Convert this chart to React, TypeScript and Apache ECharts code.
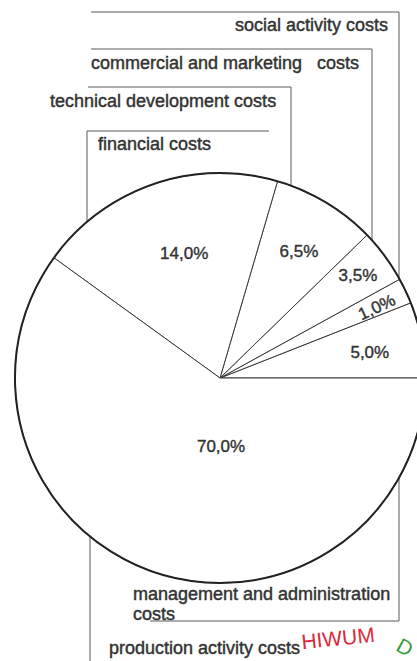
import { useEffect, useRef } from 'react';
import * as echarts from 'echarts';

// ---- data (order: counter-clockwise from 3 o'clock, as in the picture) ----
const categories = [
  'management and administration costs',
  'social activity costs',
  'commercial and marketing costs',
  'technical development costs',
  'financial costs',
  'production activity costs',
];
// shares printed inside the slices (%)
const printedShare = [5.0, 1.0, 3.5, 6.5, 14.0, 70.0];
// angular size of each slice as it is drawn in the picture (degrees; the original is not to scale)
const drawnAngle = [21.5, 7.3, 15.4, 29.5, 70.4, 215.9];

// ---- layout ----
const FONT = '"Liberation Sans", Arial, Helvetica, sans-serif';
const CX = 220;
const CY = 378;
const R = 205;
const labelRadius = [152, 172, 172, 149, 130, 69];
const labelAngleShift = [-1, -0.9, 0.2, -0.95, -2.9, 18.8];
const labelRotate = [0, 25, 0, 0, 0, 0];

const callouts = [
  { cat: 1, text: 'social activity costs', x: 388, y: 25, align: 'right', pts: [[91, 12], [399, 12], [399, 297]] },
  { cat: 2, text: 'commercial and marketing   costs', x: 91, y: 63, align: 'left', pts: [[91, 49], [372, 49], [372, 263]] },
  { cat: 3, text: 'technical development costs', x: 50, y: 101, align: 'left', pts: [[88, 87], [291, 87], [291, 217]] },
  { cat: 4, text: 'financial costs', x: 98, y: 144, align: 'left', pts: [[269, 131], [87, 131], [87, 255]] },
  { cat: 0, text: 'management and administration\ncosts', x: 133, y: 604, align: 'left', pts: [[399, 347], [399, 621], [150, 621]] },
  { cat: 5, text: 'production activity costs', x: 109, y: 648, align: 'left', pts: [[90, 407], [90, 661]] },
];

const fmt = (v: number) => v.toFixed(1).replace('.', ',') + '%';

export default function App() {
  const ref = useRef<HTMLDivElement>(null);

  useEffect(() => {
    if (!ref.current) return;
    const chart = echarts.init(ref.current, undefined, { renderer: 'svg' });

    const total = drawnAngle.reduce((a, b) => a + b, 0);
    const mids: number[] = [];
    let acc = 0;
    drawnAngle.forEach((d) => {
      const deg = (d / total) * 360;
      mids.push(acc + deg / 2);
      acc += deg;
    });

    const graphicEls: any[] = [];
    callouts.forEach((c) => {
      graphicEls.push({
        type: 'polyline',
        silent: true,
        shape: { points: c.pts },
        style: { stroke: '#5a5a5a', lineWidth: 1, fill: 'none' },
      });
      graphicEls.push({
        type: 'text',
        silent: true,
        x: c.x,
        y: c.y,
        style: {
          text: c.text,
          fill: '#333',
          stroke: '#333',
          lineWidth: 0.45,
          fontSize: 18,
          fontFamily: FONT,
          lineHeight: 20,
          align: c.align,
          verticalAlign: 'middle',
        },
      });
    });
    // library stamp visible at the bottom of the scan
    graphicEls.push({
      type: 'text',
      silent: true,
      x: 338,
      y: 638,
      rotation: 0.1,
      style: {
        text: 'HIWUM',
        fill: '#e0283a',
        fontSize: 21,
        fontFamily: FONT,
        align: 'center',
        verticalAlign: 'middle',
      },
    });
    graphicEls.push({
      type: 'text',
      silent: true,
      x: 405,
      y: 647,
      rotation: -0.5,
      style: {
        text: 'D',
        fill: '#3c9a40',
        fontSize: 21,
        fontFamily: FONT,
        align: 'center',
        verticalAlign: 'middle',
      },
    });

    chart.setOption({
      animation: false,
      backgroundColor: '#ffffff',
      tooltip: { show: false },
      series: [
        {
          type: 'pie',
          silent: true,
          center: [CX, CY],
          radius: R,
          startAngle: 0,
          clockwise: false,
          avoidLabelOverlap: false,
          minAngle: 0,
          emphasis: { disabled: true },
          data: categories.map((name, i) => ({ name, value: drawnAngle[i] })),
          itemStyle: { color: '#ffffff', borderColor: '#3a3a3a', borderWidth: 1 },
          label: {
            show: true,
            position: 'inside',
            formatter: (p: any) => fmt(printedShare[p.dataIndex]),
            color: '#333',
            fontSize: 17,
            fontFamily: FONT,
            textBorderColor: '#333',
            textBorderWidth: 0.4,
          },
          labelLine: { show: false },
          labelLayout: (params: any) => {
            const i = params.dataIndex;
            const a = ((mids[i] + labelAngleShift[i]) * Math.PI) / 180;
            return {
              x: CX + labelRadius[i] * Math.cos(a),
              y: CY - labelRadius[i] * Math.sin(a),
              align: 'center',
              verticalAlign: 'middle',
              rotate: labelRotate[i],
            };
          },
        },
        {
          type: 'pie',
          silent: true,
          center: [CX, CY],
          radius: R,
          z: 3,
          emphasis: { disabled: true },
          data: [{ name: 'outline', value: 1 }],
          label: { show: false },
          labelLine: { show: false },
          itemStyle: { color: 'rgba(0,0,0,0)', borderColor: '#222', borderWidth: 2 },
        },
      ],
      graphic: { elements: graphicEls },
    });

    return () => chart.dispose();
  }, []);

  return (
    <div style={{ position: 'fixed', left: 0, top: 0, width: 417, height: 661, background: '#fff' }}>
      <div ref={ref} style={{ width: 417, height: 661 }} />
    </div>
  );
}
